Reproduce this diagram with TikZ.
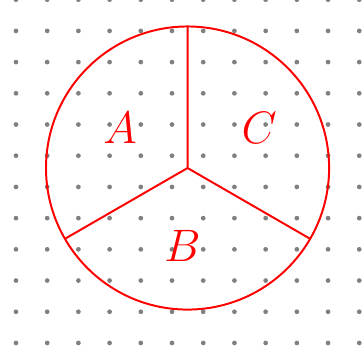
\documentclass[tikz,border=0pt]{standalone}
\usetikzlibrary{calc}
\begin{document}
\begin{tikzpicture}
\useasboundingbox (0,0) rectangle (5.80,5.705);
\foreach \i in {0,...,11}
  \foreach \j in {0,...,11}
    \fill[gray] ({0.256+0.5*\i},{0.21+0.5*\j}) circle(0.038);
\coordinate (O) at (3.005,3.013);
\coordinate (T) at ($(O)+(90:2.268)$);
\coordinate (L) at ($(O)+(210:2.268)$);
\coordinate (R) at ($(O)+(330:2.268)$);
\draw[red,line width=0.9pt] (O) circle(2.268);
\draw[red,line width=0.9pt] (O)--(T) (O)--(L) (O)--(R);
\node[red] (A) at (1.923,3.654) {\huge $A$};
\node[red] (C) at (4.151,3.654) {\huge $C$};
\node[red] (B) at (2.925,1.763) {\huge $B$};
\end{tikzpicture}
\end{document}
